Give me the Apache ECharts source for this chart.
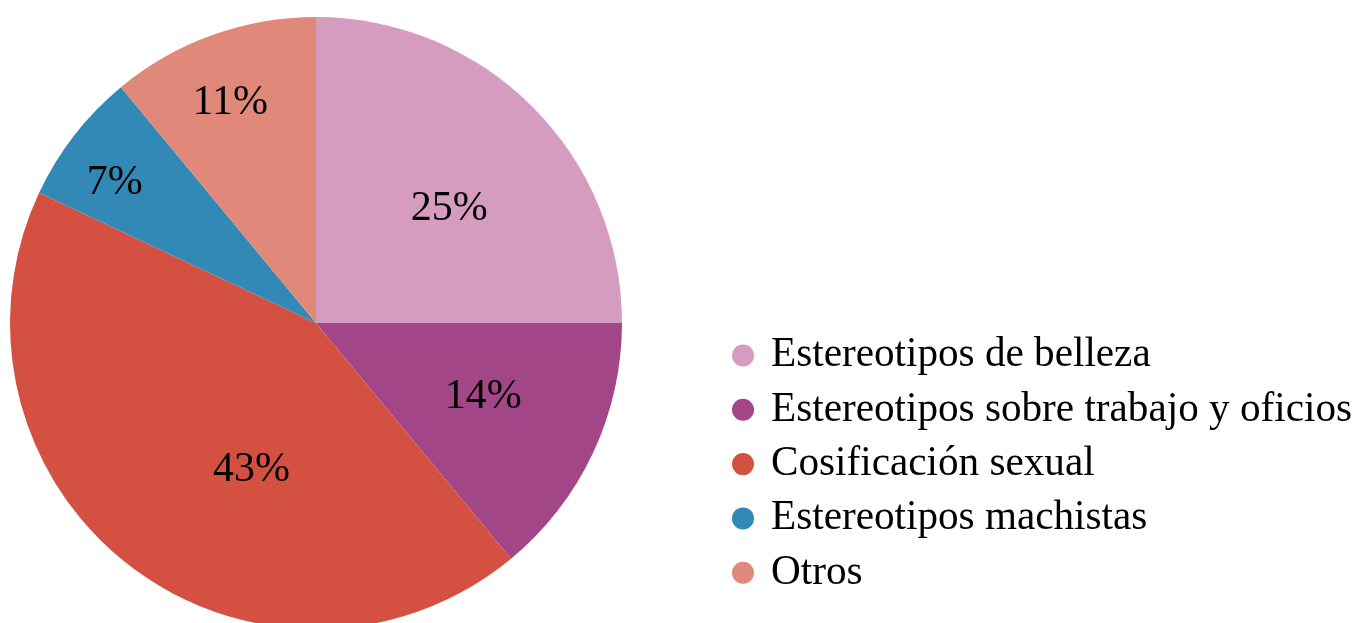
<!DOCTYPE html>
<html>
<head>
<meta charset="utf-8">
<script src="https://cdn.jsdelivr.net/npm/echarts@6/dist/echarts.min.js"></script>
<style>
html,body{margin:0;padding:0;background:#fff;}
#chart{width:1359px;height:623px;}
</style>
</head>
<body>
<div id="chart"></div>
<script>
const categories = ['Estereotipos de belleza','Estereotipos sobre trabajo y oficios','Cosificación sexual','Estereotipos machistas','Otros'];
const values = [25, 14, 43, 7, 11];
const colors = ['#D59CC0','#A34688','#D45142','#3389B5','#E0887A'];
const labelShift = [[23,-4],[26,8],[31,24],[-78,-44],[-33,-73]];

const chart = echarts.init(document.getElementById('chart'), null, {renderer:'canvas'});
chart.setOption({
  animation:false,
  backgroundColor:'#ffffff',
  color: colors,
  legend:{
    orient:'vertical',
    left:727,
    top:330,
    icon:'circle',
    itemWidth:22,
    itemHeight:22,
    itemGap:13.3,
    textStyle:{fontFamily:'Liberation Serif',fontSize:41.2,lineHeight:40,color:'#000',padding:[0,0,0,12]},
    data:categories
  },
  series:[{
    type:'pie',
    center:[316,323],
    radius:[0,306],
    startAngle:90,
    clockwise:true,
    avoidLabelOverlap:false,
    label:{show:true,position:'inside',fontFamily:'Liberation Serif',fontSize:42,color:'#000',
      formatter: p => p.value + '%'},
    labelLine:{show:false},
    labelLayout: p => ({dx: labelShift[p.dataIndex][0], dy: labelShift[p.dataIndex][1]}),
    itemStyle:{borderWidth:0},
    emphasis:{disabled:true},
    data: categories.map((c,i)=>({name:c,value:values[i]}))
  }]
});
</script>
</body>
</html>
